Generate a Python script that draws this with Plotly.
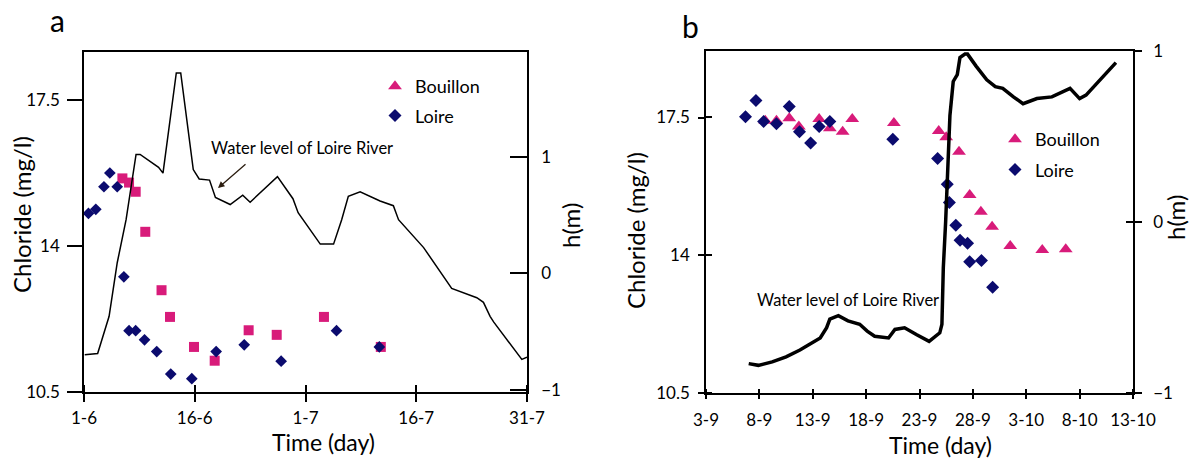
import plotly.graph_objects as go

# ---------------- Panel a data (x = days since 1 June) ----------------
a_tick_vals = [0, 15, 30, 45, 60]
a_tick_text = ["1-6", "16-6", "1-7", "16-7", "31-7"]

a_loire_day = [0.6, 1.6, 2.7, 3.5, 4.5, 5.4, 6.1, 7.0, 8.2, 9.85, 11.75, 14.6, 17.9, 21.7, 26.7, 34.2, 40.0]
a_loire_cl = [14.78, 14.88, 15.42, 15.75, 15.42, 13.26, 11.97, 11.97, 11.75, 11.47, 10.93, 10.82, 11.47, 11.63, 11.24, 11.97, 11.58]

a_bouil_day = [5.2, 6.1, 7.0, 8.3, 10.5, 11.65, 14.9, 17.7, 22.3, 26.1, 32.5, 40.2]
a_bouil_cl = [15.62, 15.52, 15.30, 14.34, 12.94, 12.30, 11.58, 11.25, 11.98, 11.87, 12.30, 11.58]

a_level_day = [0.1, 1.85, 3.4, 4.5, 5.7, 7.05, 7.6, 10.1, 10.7, 12.5, 13.1, 14.8, 15.6, 17.0, 17.8,
               19.8, 21.5, 22.5, 26.2, 27.2, 28.3, 29.0, 30.6, 32.0, 33.8, 34.9, 35.8, 37.4, 40.1,
               41.9, 42.6, 46.0, 49.8, 53.2, 54.1, 55.0, 55.5, 59.3, 60.0]
a_level_h = [-0.70, -0.69, -0.37, 0.09, 0.46, 1.02, 1.02, 0.91, 0.86, 1.72, 1.72, 0.89, 0.81, 0.80, 0.65,
             0.59, 0.67, 0.61, 0.83, 0.74, 0.64, 0.52, 0.38, 0.25, 0.25, 0.46, 0.66, 0.70, 0.62,
             0.58, 0.46, 0.22, -0.13, -0.21, -0.25, -0.37, -0.42, -0.74, -0.72]

# ---------------- Panel b data (x = days since 3 September) ----------------
b_tick_vals = [0, 5, 10, 15, 20, 25, 30, 35, 40]
b_tick_text = ["3-9", "8-9", "13-9", "18-9", "23-9", "28-9", "3-10", "8-10", "13-10"]

b_loire_day = [3.7, 4.68, 5.4, 6.6, 7.8, 8.76, 9.8, 10.6, 11.6, 17.5, 21.7, 22.6, 22.8, 23.4, 23.8,
               24.5, 24.7, 25.8, 26.85]
b_loire_cl = [17.52, 17.93, 17.40, 17.34, 17.78, 17.14, 16.85, 17.27, 17.40, 16.95, 16.46, 15.80, 15.34,
              14.76, 14.38, 14.30, 13.83, 13.86, 13.18]

b_bouil_day = [5.55, 6.6, 7.8, 8.7, 10.6, 11.6, 12.8, 13.7, 17.6, 21.8, 22.5, 23.7, 24.7, 25.75, 26.8,
               28.5, 31.5, 33.7]
b_bouil_cl = [17.42, 17.42, 17.48, 17.27, 17.46, 17.23, 17.14, 17.46, 17.36, 17.16, 17.0, 16.63, 15.53,
              15.10, 14.72, 14.23, 14.13, 14.15]

b_level_day = [4.0, 4.9, 6.2, 7.5, 8.8, 9.9, 10.7, 11.3, 11.6, 12.4, 13.3, 14.4, 15.1, 15.8, 17.1, 17.7,
               18.6, 19.7, 20.9, 21.9, 22.1, 22.23, 22.45, 22.85, 23.16, 23.54, 23.79, 24.26, 24.5, 25.3,
               26.3, 27.1, 27.8, 28.8, 29.7, 31.0, 32.4, 34.1, 35.0, 35.6, 36.9, 38.4]
b_level_h = [-0.83, -0.84, -0.82, -0.79, -0.75, -0.71, -0.68, -0.62, -0.57, -0.55, -0.58, -0.60, -0.64,
             -0.67, -0.68, -0.63, -0.62, -0.66, -0.70, -0.65, -0.60, -0.27, 0.0, 0.62, 0.82, 0.86, 0.96,
             0.98, 0.98, 0.91, 0.83, 0.79, 0.78, 0.73, 0.69, 0.72, 0.73, 0.78, 0.72, 0.74, 0.83, 0.93]

cl_ticks = [10.5, 14, 17.5]
h_ticks = [-1, 0, 1]

PINK = "#D81B7A"
NAVY = "#0B0B6E"
FONT = "Lato"
W, H = 1189, 459

fig = go.Figure()

# Panel a
fig.add_trace(go.Scatter(x=a_level_day, y=a_level_h, mode="lines", line=dict(color="black", width=1.5),
                         xaxis="x", yaxis="y2", showlegend=False))
fig.add_trace(go.Scatter(x=a_bouil_day, y=a_bouil_cl, mode="markers",
                         marker=dict(symbol="square", size=10, color=PINK),
                         xaxis="x", yaxis="y", showlegend=False))
fig.add_trace(go.Scatter(x=a_loire_day, y=a_loire_cl, mode="markers",
                         marker=dict(symbol="diamond", size=9, color=NAVY),
                         xaxis="x", yaxis="y", showlegend=False))
# legend entries of panel a (legend shows triangle for Bouillon)
fig.add_trace(go.Scatter(x=[None], y=[None], mode="markers", name="Bouillon",
                         marker=dict(symbol="triangle-up", size=12, color=PINK),
                         xaxis="x", yaxis="y", legend="legend", legendgroup="a1"))
fig.add_trace(go.Scatter(x=[None], y=[None], mode="markers", name="Loire",
                         marker=dict(symbol="diamond", size=10, color=NAVY),
                         xaxis="x", yaxis="y", legend="legend", legendgroup="a2"))

# Panel b
fig.add_trace(go.Scatter(x=b_level_day, y=b_level_h, mode="lines", line=dict(color="black", width=3.5),
                         xaxis="x2", yaxis="y4", showlegend=False))
fig.add_trace(go.Scatter(x=b_bouil_day, y=b_bouil_cl, mode="markers", name="Bouillon",
                         marker=dict(symbol="triangle-up", size=12, color=PINK),
                         xaxis="x2", yaxis="y3", legend="legend2", legendgroup="b1"))
fig.add_trace(go.Scatter(x=b_loire_day, y=b_loire_cl, mode="markers", name="Loire",
                         marker=dict(symbol="diamond", size=10, color=NAVY),
                         xaxis="x2", yaxis="y3", legend="legend2", legendgroup="b2"))

tickfont = dict(family=FONT, size=17, color="black")
eps = 1e-3


def px(x):
    return x / W


def py(y):
    return 1 - y / H


common = dict(showline=True, linecolor="black", linewidth=1.6, showgrid=False, zeroline=False,
              tickcolor="black", tickwidth=1.5, tickfont=tickfont, tickmode="array", automargin=False)

fig.update_layout(
    template="none",
    width=W, height=H, margin=dict(l=0, r=0, t=0, b=0, pad=0, autoexpand=False),
    paper_bgcolor="white", plot_bgcolor="white",
    font=dict(family=FONT, color="black"),
    xaxis=dict(domain=[px(84), px(527)], anchor="y", range=[0, 60], tickvals=a_tick_vals,
               ticktext=a_tick_text, ticks="outside", ticklen=8, mirror=True, ticklabelstandoff=2,
               minor=dict(tickmode="array", tickvals=[v + eps for v in a_tick_vals], ticks="inside",
                          ticklen=7, tickcolor="black", tickwidth=1.5),
               **common),
    yaxis=dict(domain=[py(392), py(52)], anchor="x", range=[10.5, 18.65], tickvals=cl_ticks,
               ticks="outside", ticklen=15, ticklabelstandoff=4, **common),
    yaxis2=dict(overlaying="y", anchor="x", side="right", range=[-1.02, 1.90], tickvals=h_ticks,
                ticks="inside", ticklen=17, ticklabelstandoff=9, **common),
    xaxis2=dict(domain=[px(706), px(1133)], anchor="y3", range=[0, 40], tickvals=b_tick_vals,
                ticktext=b_tick_text, ticks="outside", ticklen=4, mirror=True, ticklabelstandoff=7,
                minor=dict(tickmode="array", tickvals=[v + eps for v in b_tick_vals], ticks="inside",
                           ticklen=4, tickcolor="black", tickwidth=1.5),
                **common),
    yaxis3=dict(domain=[py(392.7), py(50.7)], anchor="x2", range=[10.5, 19.2], tickvals=cl_ticks,
                ticks="outside", ticklen=6, ticklabelstandoff=5,
                minor=dict(tickmode="array", tickvals=[v + eps for v in cl_ticks], ticks="inside",
                           ticklen=6, tickcolor="black", tickwidth=1.5),
                **common),
    yaxis4=dict(overlaying="y3", anchor="x2", side="right", range=[-1.0, 1.0], tickvals=h_ticks,
                ticks="outside", ticklen=7, ticklabelstandoff=8,
                minor=dict(tickmode="array", tickvals=[v + eps for v in h_ticks], ticks="inside",
                           ticklen=7, tickcolor="black", tickwidth=1.5),
                **common),
    legend=dict(x=px(375), y=py(68), xanchor="left", yanchor="top", bgcolor="rgba(0,0,0,0)",
                font=dict(family=FONT, size=18, color="black"), tracegroupgap=3, traceorder="grouped"),
    legend2=dict(x=px(995), y=py(121), xanchor="left", yanchor="top", bgcolor="rgba(0,0,0,0)",
                 font=dict(family=FONT, size=18, color="black"), tracegroupgap=4, traceorder="grouped"),
)

ann = []


def add_text(text, x, y, size, angle=0, xanchor="center"):
    ann.append(dict(text=text, x=px(x), y=py(y), xref="paper", yref="paper", showarrow=False,
                    xanchor=xanchor, yanchor="middle", textangle=angle,
                    font=dict(family=FONT, size=size, color="black")))


# panel labels
add_text("a", 57, 20, 30)
add_text("b", 690, 26, 30)
# axis titles
add_text("Chloride (mg/l)", 22, 215, 24, -90)
add_text("Chloride (mg/l)", 636, 230, 24, -90)
add_text("Time (day)", 323, 442, 23)
add_text("Time (day)", 940, 445, 23)
add_text("h(m)", 571, 226, 24, -90)
add_text("h(m)", 1176, 218, 24, -90)
# water level labels
add_text("Water level of Loire River", 209, 148, 16.5, xanchor="left")
add_text("Water level of Loire River", 755, 300, 16.5, xanchor="left")
ann.append(dict(text="", x=px(218), y=py(188), xref="paper", yref="paper", showarrow=True,
                ax=29, ay=-25, arrowhead=2, arrowsize=1, arrowwidth=1.3, arrowcolor="#2b1d10"))
fig.update_layout(annotations=ann)

fig.write_html("out.html", config={"displayModeBar": False},
               post_script="document.body.style.margin='0px';document.body.style.padding='0px';"
                           "document.documentElement.style.margin='0px';")
